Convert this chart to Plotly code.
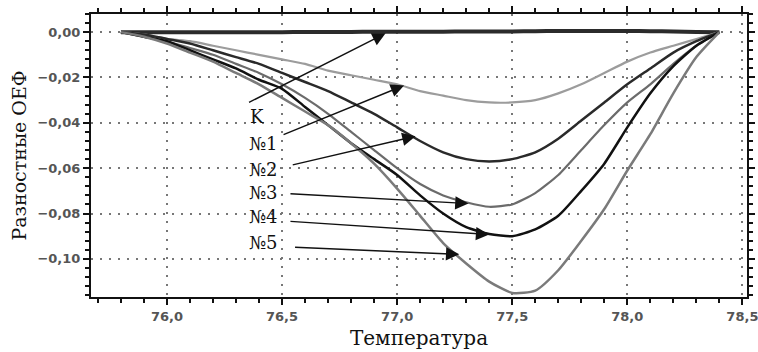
import plotly.graph_objects as go

temperature = [75.8, 75.9, 76.0, 76.1, 76.2, 76.3, 76.4, 76.5, 76.6, 76.7, 76.8, 76.9,
               77.0, 77.1, 77.2, 77.3, 77.4, 77.5, 77.6, 77.7, 77.8, 77.9, 78.0, 78.1,
               78.2, 78.3, 78.4]

series_k = [0, 0, 0, 0, 0, 0, 0, 0, 0.0001, 0.0001, 0.0001, 0.0002,
            0.0002, 0.0002, 0.0002, 0.0003, 0.0003, 0.0003, 0.0004, 0.0005, 0.0005, 0.0005, 0.0005, 0.0004,
            0.0003, 0.0001, 0]
series_1 = [0, -0.001, -0.003, -0.004, -0.006, -0.008, -0.010, -0.012, -0.014, -0.017, -0.019, -0.021,
            -0.023, -0.026, -0.028, -0.030, -0.031, -0.031, -0.030, -0.027, -0.023, -0.018, -0.013, -0.009,
            -0.006, -0.003, 0]
series_2 = [0, -0.001, -0.003, -0.005, -0.008, -0.011, -0.014, -0.018, -0.022, -0.026, -0.031, -0.036,
            -0.042, -0.048, -0.053, -0.056, -0.057, -0.056, -0.053, -0.047, -0.039, -0.031, -0.023, -0.016,
            -0.009, -0.004, 0]
series_3 = [0, -0.002, -0.004, -0.007, -0.010, -0.014, -0.018, -0.023, -0.029, -0.036, -0.044, -0.052,
            -0.060, -0.067, -0.072, -0.075, -0.077, -0.076, -0.071, -0.063, -0.052, -0.041, -0.031, -0.023,
            -0.014, -0.006, 0]
series_4 = [0, -0.002, -0.004, -0.008, -0.012, -0.016, -0.021, -0.025, -0.033, -0.041, -0.049, -0.056,
            -0.063, -0.072, -0.080, -0.086, -0.089, -0.090, -0.087, -0.081, -0.070, -0.058, -0.042, -0.027,
            -0.015, -0.006, 0]
series_5 = [0, -0.002, -0.005, -0.009, -0.013, -0.018, -0.023, -0.029, -0.035, -0.041, -0.049, -0.058,
            -0.069, -0.081, -0.093, -0.102, -0.110, -0.115, -0.114, -0.105, -0.092, -0.078, -0.061, -0.045,
            -0.027, -0.011, 0]

labels = ["K", "№1", "№2", "№3", "№4", "№5"]
label_t = [76.39, 76.42, 76.42, 76.42, 76.42, 76.42]
label_v = [-0.0374, -0.0491, -0.0605, -0.0705, -0.0812, -0.0926]
arrow_tail_t = [76.35, 76.50, 76.54, 76.53, 76.53, 76.55]
arrow_tail_v = [-0.0313, -0.0455, -0.0587, -0.0712, -0.0834, -0.0948]
arrow_tip_t = [76.95, 77.03, 77.08, 77.31, 77.40, 77.27]
arrow_tip_v = [-0.0005, -0.0235, -0.0459, -0.0756, -0.0892, -0.0980]

x_ticks = [76.0, 76.5, 77.0, 77.5, 78.0, 78.5]
y_ticks = [0.0, -0.02, -0.04, -0.06, -0.08, -0.10]

series = [series_k, series_1, series_2, series_3, series_4, series_5]
colors = ["#2b2b2b", "#9c9c9c", "#2a2a2a", "#6b6b6b", "#111111", "#7a7a7a"]
widths = [4, 2.2, 2.5, 2.2, 2.5, 2.5]

SERIF = "DejaVu Serif"

fig = go.Figure()
for name, ys, c, w in zip(labels, series, colors, widths):
    fig.add_trace(go.Scatter(x=temperature, y=ys, mode="lines", name=name,
                             line=dict(color=c, width=w, shape="spline", smoothing=0.6),
                             showlegend=False))

for t, v, txt in zip(label_t, label_v, labels):
    fig.add_annotation(x=t, y=v, xref="x", yref="y", text=txt, showarrow=False,
                       font=dict(family=SERIF, size=18, color="#111"))

for tt, tv, ht, hv in zip(arrow_tail_t, arrow_tail_v, arrow_tip_t, arrow_tip_v):
    fig.add_annotation(x=ht, y=hv, ax=tt, ay=tv, xref="x", yref="y", axref="x", ayref="y",
                       text="", showarrow=True, arrowhead=2, arrowsize=1.9, arrowwidth=1.4,
                       arrowcolor="#111", standoff=0)

axis_common = dict(showline=True, linecolor="#111", linewidth=2, mirror="allticks",
                   ticks="outside", ticklen=6, tickwidth=2, tickcolor="#111",
                   showgrid=True, gridcolor="#777", griddash="2px,7px", gridwidth=2,
                   zeroline=False, automargin=False, ticklabeloverflow="allow",
                   tickfont=dict(family="DejaVu Sans", size=13,
                                 color="#555", weight="bold"))

fig.update_xaxes(range=[75.67, 78.52], tickvals=x_ticks, tickformat=".1f",
                 minor=dict(dtick=0.1, tick0=76.0, ticks="outside", ticklen=4, tickwidth=1.5,
                            tickcolor="#111", showgrid=False),
                 title=dict(text="Температура", standoff=8,
                            font=dict(family=SERIF, size=20, color="#111")),
                 **axis_common)
fig.update_yaxes(range=[-0.1168, 0.008], tickvals=y_ticks, tickformat=".2f",
                 minor=dict(dtick=0.004, tick0=0, ticks="outside", ticklen=4, tickwidth=1.5,
                            tickcolor="#111", showgrid=False),
                 title=dict(text="Разностные ОЕФ", standoff=6,
                            font=dict(family=SERIF, size=19, color="#111")),
                 **axis_common)

fig.update_layout(width=758, height=352, margin=dict(l=91, r=11, t=14, b=55),
                  plot_bgcolor="white", paper_bgcolor="white", separators=", ")

fig.write_html("out.html")
